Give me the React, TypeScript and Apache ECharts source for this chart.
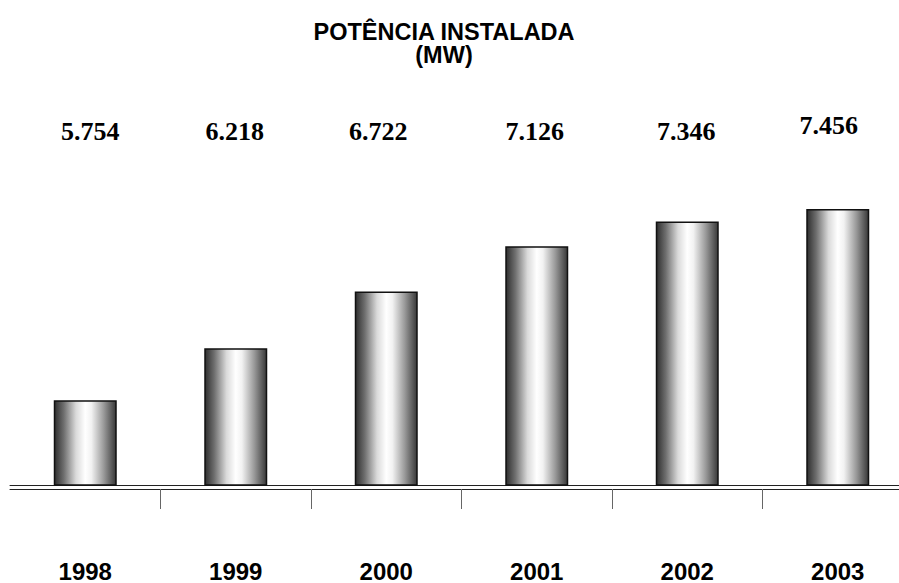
import React, { useEffect, useRef } from "react";
import * as echarts from "echarts";

const years = ["1998", "1999", "2000", "2001", "2002", "2003"];
const capacityMW = [5754, 6218, 6722, 7126, 7346, 7456];
const titleLines = ["POTÊNCIA INSTALADA", "(MW)"];

const fmt = (v: number) => {
  const s = String(v);
  return s.length > 3 ? s.slice(0, s.length - 3) + "." + s.slice(-3) : s;
};
const valueLabels = capacityMW.map(fmt);

// small hand-placement nudges of the value labels, as in the original slide [dx, dy]
const labelNudge: [number, number][] = [
  [5, 0],
  [-1, 0],
  [-8, 0],
  [-2, 0],
  [-1, 0],
  [-9, -3],
];

export default function App() {
  const ref = useRef<HTMLDivElement>(null);
  useEffect(() => {
    document.body.style.margin = "0";
    document.body.style.overflow = "hidden";
    const chart = echarts.init(ref.current!, undefined, { renderer: "svg" });
    const topData = valueLabels.map((v, i) => {
      const [dx, dy] = labelNudge[i];
      return {
        value: v,
        textStyle: {
          padding: [0, dx < 0 ? -2 * dx : 0, dy < 0 ? -2 * dy : 0, dx > 0 ? 2 * dx : 0],
        },
      };
    });
    chart.setOption({
      animation: false,
      backgroundColor: "#ffffff",
      title: {
        text: titleLines.join("\n"),
        left: 449 - 10,
        textAlign: "center",
        top: 15,
        textStyle: {
          fontFamily: "Liberation Sans, Arial",
          fontWeight: "bold",
          fontSize: 23.5,
          lineHeight: 23.5,
          color: "#000",
        },
      },
      grid: { left: 10, right: 7, top: 148, bottom: 98, containLabel: false },
      yAxis: {
        type: "value",
        min: 5000,
        max: 8000,
        show: false,
      },
      xAxis: [
        {
          type: "category",
          position: "bottom",
          data: years,
          axisLine: { show: true, lineStyle: { color: "#222", width: 1 } },
          axisTick: { show: false },
          splitLine: { show: false },
          axisLabel: {
            margin: 74,
            fontFamily: "Liberation Sans, Arial",
            fontWeight: "bold",
            fontSize: 24,
            color: "#000",
          },
        },
        {
          type: "category",
          position: "bottom",
          offset: 4,
          data: years,
          axisLine: { show: true, lineStyle: { color: "#222", width: 1 } },
          axisTick: {
            show: true,
            length: 20,
            interval: (index: number) => index !== 0,
            lineStyle: { color: "#666", width: 1 },
          },
          axisLabel: { show: false },
          splitLine: { show: false },
        },
        {
          type: "category",
          position: "top",
          data: topData,
          axisLine: { show: false },
          axisTick: { show: false },
          splitLine: { show: false },
          axisLabel: {
            margin: 4,
            fontFamily: "Liberation Serif, Times New Roman",
            fontWeight: "bold",
            fontSize: 26,
            color: "#000",
          },
        },
      ],
      series: [
        {
          type: "bar",
          xAxisIndex: 0,
          data: capacityMW,
          barWidth: 63,
          barGap: "-100%",
          itemStyle: {
            color: new echarts.graphic.LinearGradient(0, 0, 1, 0, [
              { offset: 0, color: "#2e2e2e" },
              { offset: 0.15, color: "#6e6e6e" },
              { offset: 0.35, color: "#dadada" },
              { offset: 0.5, color: "#ffffff" },
              { offset: 0.6, color: "#f2f2f2" },
              { offset: 0.8, color: "#9a9a9a" },
              { offset: 1, color: "#383838" },
            ]),
            borderColor: "#111",
            borderWidth: 1.5,
          },
        },
      ],
    });
    return () => chart.dispose();
  }, []);
  return <div ref={ref} style={{ width: 920, height: 583 }} />;
}
